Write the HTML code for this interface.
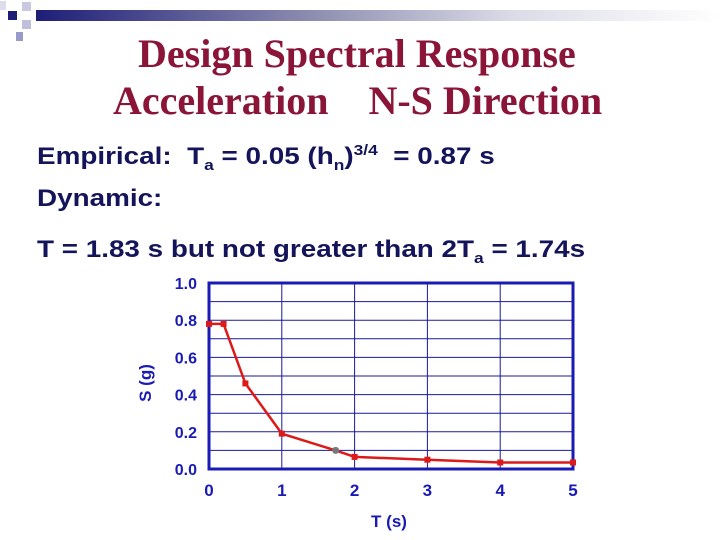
<!DOCTYPE html>
<html><head><meta charset="utf-8"><style>
body{margin:0;width:720px;height:540px;background:#fff;position:relative;overflow:hidden;font-family:"Liberation Sans",sans-serif}
.t{position:absolute;white-space:nowrap}
.title{font-family:"Liberation Serif",serif;font-weight:bold;font-size:40px;color:#8a1538}
.body{font-weight:bold;font-size:24px;color:#14145a;transform:scaleX(1.16);transform-origin:left top}
sub,sup{font-size:15px}
</style></head><body>
<div style="position:absolute;left:36px;top:10px;width:684px;height:11px;background:linear-gradient(to right,#1e1e78,#8c8cb0 40%,#dcdce8 70%,#fff)"></div>
<div style="position:absolute;left:8px;top:11px;width:9px;height:9px;background:#1e1e78"></div>
<div style="position:absolute;left:22px;top:2px;width:9px;height:9px;background:#c8c8e0"></div>
<div style="position:absolute;left:22px;top:20px;width:9px;height:9px;background:#c0c0dc"></div>
<div style="position:absolute;left:16px;top:32px;width:7px;height:9px;background:#9a9ac8"></div>
<div style="position:absolute;left:0px;top:1px;width:6px;height:9px;background:#dcdcec"></div>

<div class="t title" style="left:138px;top:30px">Design Spectral Response</div>
<div class="t title" style="left:113px;top:77px">Acceleration&nbsp;&nbsp;&nbsp; N-S Direction</div>
<div class="t body" style="left:37px;top:142px">Empirical:&nbsp; T<sub>a</sub> = 0.05 (h<sub>n</sub>)<sup>3/4</sup>&nbsp; = 0.87 s</div>
<div class="t body" style="left:37px;top:185px">Dynamic:</div>
<div class="t body" style="left:37px;top:236px">T = 1.83 s but not greater than 2T<sub>a</sub> = 1.74s</div>

<svg id="chart" width="720" height="540" style="position:absolute;left:0;top:0"></svg>
<script>
const tValues=[0,0.2,0.5,1,1.74,2,3,4,5];
const sValues=[0.78,0.78,0.46,0.19,0.10,0.065,0.05,0.035,0.035];
const xTicks=[0,1,2,3,4,5];
const yTicks=[0,0.2,0.4,0.6,0.8,1.0];
const yTickLabels=["0.0","0.2","0.4","0.6","0.8","1.0"];
const highlightIndex=4;
const X0=209,X1=573,Y0=469,Y1=283;
const sx=v=>X0+(X1-X0)*v/5;
const sy=v=>Y0-(Y0-Y1)*v/1.0;
const svg=document.getElementById('chart');
const NS='http://www.w3.org/2000/svg';
function mk(tag,attrs){const e=document.createElementNS(NS,tag);for(const k in attrs)e.setAttribute(k,attrs[k]);svg.appendChild(e);return e;}
for(let i=1;i<10;i++){const y=sy(i/10);
const g=mk('line',{x1:X0,x2:X1,y1:y,y2:y,stroke:'#1a1a9a','stroke-width':1});

}
for(let i=1;i<5;i++){const x=sx(i);
const g=mk('line',{x1:x,x2:x,y1:Y1,y2:Y0,stroke:'#1a1a9a','stroke-width':1});

}
const fr=mk('rect',{x:X0,y:Y1,width:X1-X0,height:Y0-Y1,fill:'none',stroke:'#1a1ab4','stroke-width':3});


xTicks.forEach(v=>{const t=mk('text',{x:sx(v),y:496,'text-anchor':'middle','font-size':17,'font-weight':'bold',fill:'#1a1ab4','font-family':'Liberation Sans Narrow, Liberation Sans, sans-serif'});t.textContent=v;

});
yTicks.forEach((v,i)=>{const t=mk('text',{x:197,y:sy(v)+6,'text-anchor':'end','font-size':16,'font-weight':'bold',fill:'#1a1ab4','font-family':'Liberation Sans Narrow, Liberation Sans, sans-serif'});t.textContent=yTickLabels[i];

});
const xt=mk('text',{x:389,y:527,'text-anchor':'middle','font-size':17,'font-weight':'bold',fill:'#1a1ab4','font-family':'Liberation Sans Narrow, Liberation Sans, sans-serif'});xt.textContent='T (s)';


const yt=mk('text',{x:0,y:0,'text-anchor':'middle','font-size':17,'font-weight':'bold',fill:'#1a1ab4',transform:'translate(151,383) rotate(-90)','font-family':'Liberation Sans Narrow, Liberation Sans, sans-serif'});yt.textContent='S (g)';


const pts=tValues.map((t,i)=>sx(t)+','+sy(sValues[i])).join(' ');
const pl=mk('polyline',{points:pts,fill:'none',stroke:'#dd1a1a','stroke-width':2.5});


tValues.forEach((t,i)=>{
if(i===highlightIndex){const c=mk('circle',{cx:sx(t),cy:sy(sValues[i]),r:3.5,fill:'#777'});

}
else{const r=mk('rect',{x:sx(t)-3,y:sy(sValues[i])-3,width:6,height:6,fill:'#dd1a1a'});

}
});
</script>
</body></html>
